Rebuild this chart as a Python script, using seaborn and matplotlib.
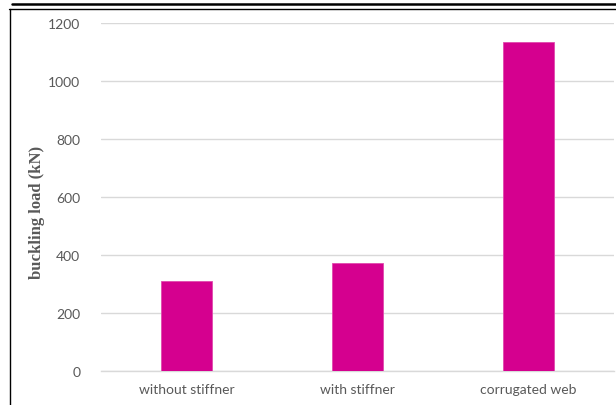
import numpy as np
import pandas as pd
import matplotlib
matplotlib.use("Agg")
import matplotlib.pyplot as plt
from matplotlib.lines import Line2D
import seaborn as sns

categories = ["without stiffner", "with stiffner", "corrugated web"]
buckling_load = [311, 371, 1134]

sns.set_style("white")
plt.rcParams["font.family"] = ["Lato", "DejaVu Sans"]

W, H = 616, 406
fig = plt.figure(figsize=(W / 100, H / 100), dpi=100)
ax = fig.add_axes([101 / W, 1 - 372 / H, (614 - 101) / W, (372 - 24) / H])

df = pd.DataFrame({"cat": categories, "load": buckling_load})
sns.barplot(data=df, x="cat", y="load", ax=ax, color="#D5008F", width=0.3,
            saturation=1, edgecolor="#E04AAE", linewidth=0.6, zorder=3)

ax.set_ylim(0, 1200)
ax.set_xlim(-0.5, 2.5)
ax.set_yticks(np.arange(0, 1201, 200))
ax.yaxis.grid(True, color="#D9D9D9", linewidth=1.0, zorder=0)
ax.set_axisbelow(True)
for s in ["top", "right", "left"]:
    ax.spines[s].set_visible(False)
ax.spines["bottom"].set_color("#D9D9D9")
ax.spines["bottom"].set_linewidth(1.0)
ax.tick_params(axis="y", length=0, pad=15, labelsize=10, labelcolor="#595959")
ax.tick_params(axis="x", length=0, pad=9, labelsize=10, labelcolor="#595959")
ax.set_xlabel("")
ax.set_ylabel("")

fig.text(37 / W, 1 - 212 / H, "buckling load (kN)", rotation=90, ha="center",
         va="center", fontsize=12, fontweight="bold", color="#595959",
         family=["Liberation Serif", "DejaVu Serif"])

# frame lines around the chart
fig.add_artist(Line2D([12 / W, 1], [1 - 5.3 / H, 1 - 5.3 / H], color="black",
                      linewidth=1.8, transform=fig.transFigure))
fig.add_artist(Line2D([9 / W, 1], [1 - 9.5 / H, 1 - 9.5 / H], color="black",
                      linewidth=1.0, transform=fig.transFigure))
fig.add_artist(Line2D([9.5 / W, 9.5 / W], [0, 1 - 9.5 / H], color="black",
                      linewidth=1.0, transform=fig.transFigure))

fig.savefig("out.png", dpi=100)
